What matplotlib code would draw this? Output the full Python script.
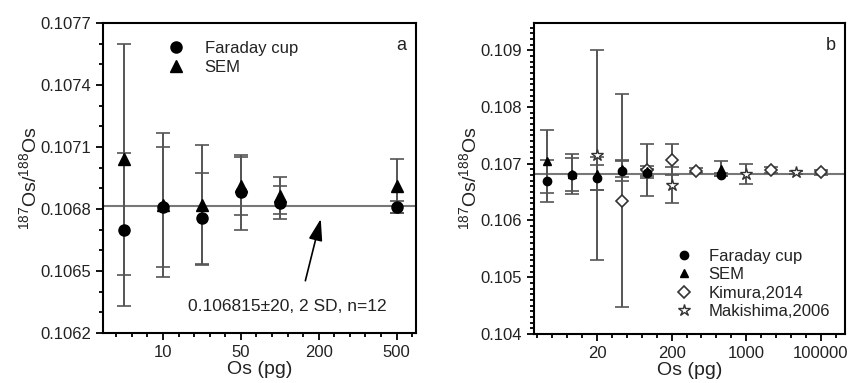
import matplotlib
matplotlib.use('Agg')
import matplotlib.pyplot as plt
import numpy as np
from matplotlib.ticker import FixedLocator, MultipleLocator, FormatStrFormatter

plt.rcParams['font.family'] = ['Liberation Sans', 'DejaVu Sans']
plt.rcParams['mathtext.default'] = 'regular'

# panel a: Faraday cup / SEM, category positions on x
pos_a = [1, 2, 3, 4, 5, 8]
fc_a = [0.10670, 0.10681, 0.106755, 0.10688, 0.10683, 0.10681]
fc_err_a = [0.00037, 0.00029, 0.00022, 0.00018, 0.00008, 0.00003]
sem_a = [0.10704, 0.10682, 0.10682, 0.10691, 0.106865, 0.10691]
sem_err_a = [0.00056, 0.00035, 0.00029, 0.00014, 0.00009, 0.00013]
xticks_a = [2, 4, 6, 8]
xlabels_a = ['10', '50', '200', '500']

# panel b: same data + literature values
pos_b = [1, 2, 3, 4, 5, 8]
kim_pos = [4, 5, 6, 7, 10, 12]
kim = [0.10635, 0.10689, 0.10707, 0.10688, 0.10689, 0.10685]
kim_err = [0.00188, 0.00045, 0.00027, 0.00005, 0.00005, 0.00004]
mak_pos = [3, 6, 9, 11]
mak = [0.10715, 0.10662, 0.106825, 0.10685]
mak_err = [0.00185, 0.00032, 0.000175, 0.00003]
xticks_b = [3, 6, 9, 12]
xlabels_b = ['20', '200', '1000', '100000']

mean_val = 0.106815

txt = '#222222'
ecol = '#555555'

fig = plt.figure(figsize=(8.48, 3.83), dpi=100)
ax1 = fig.add_axes([0.1215, 0.1305, 0.3691, 0.8095])
ax2 = fig.add_axes([0.6297, 0.128, 0.3668, 0.812])


def style(ax):
    for s in ax.spines.values():
        s.set_linewidth(1.5)
        s.set_color('black')
    ax.tick_params(which='both', direction='out', top=False, right=False,
                   labelsize=12, labelcolor=txt, width=1.3)
    ax.tick_params(which='major', length=5)
    ax.tick_params(which='minor', length=3)
    ax.set_xlabel('Os (pg)', fontsize=14, color=txt, labelpad=1)
    ax.set_ylabel('$^{187}$Os/$^{188}$Os', fontsize=14, color=txt, labelpad=0)


# ---- panel a
ax = ax1
ax.axhline(mean_val, color='#777777', lw=1.5, zorder=1)
ax.errorbar(pos_a, fc_a, yerr=fc_err_a, fmt='none', ecolor=ecol, elinewidth=1.4,
            capsize=5, capthick=1.2, zorder=2)
ax.errorbar(pos_a, sem_a, yerr=sem_err_a, fmt='none', ecolor=ecol, elinewidth=1.4,
            capsize=5, capthick=1.2, zorder=2)
ax.plot(pos_a, fc_a, 'o', color='black', ms=8, ls='none', label='Faraday cup', zorder=3)
ax.plot(pos_a, sem_a, '^', color='black', ms=8, ls='none', label='SEM', zorder=3)
ax.set_xlim(0.46, 8.5)
ax.set_ylim(0.1062, 0.1077)
ax.xaxis.set_major_locator(FixedLocator(xticks_a))
ax.set_xticklabels(xlabels_a)
ax.xaxis.set_minor_locator(FixedLocator(np.arange(0.4, 8.5, 0.4)))
ax.yaxis.set_major_locator(MultipleLocator(0.0003))
ax.yaxis.set_minor_locator(MultipleLocator(0.0001))
ax.yaxis.set_major_formatter(FormatStrFormatter('%.4f'))
style(ax)
ax.legend(loc='upper left', bbox_to_anchor=(0.16, 0.99), frameon=False, fontsize=12,
          handlelength=1.0, handletextpad=1.2, labelspacing=0.25, labelcolor=txt)
ax.text(0.97, 0.955, 'a', transform=ax.transAxes, ha='right', va='top', fontsize=13,
        color=txt)
ax.annotate('', xy=(6.07, 0.106765), xytext=(5.64, 0.10644),
            arrowprops=dict(arrowstyle='-|>,head_length=1.1,head_width=0.35',
                            color='black', lw=1.2), fontsize=12)
ax.text(5.2, 0.10633, '0.106815\u00b120, 2 SD, n=12', ha='center', va='center',
        fontsize=12.5, color=txt)

# ---- panel b
ax = ax2
ax.axhline(mean_val, color='#777777', lw=1.5, zorder=1)
for p, v, e in [(pos_b, fc_a, fc_err_a), (pos_b, sem_a, sem_err_a),
                (kim_pos, kim, kim_err), (mak_pos, mak, mak_err)]:
    ax.errorbar(p, v, yerr=e, fmt='none', ecolor=ecol, elinewidth=1.4,
                capsize=5, capthick=1.2, zorder=2)
ax.plot(pos_b, fc_a, 'o', color='black', ms=6, ls='none', label='Faraday cup', zorder=4)
ax.plot(pos_b, sem_a, '^', color='black', ms=6, ls='none', label='SEM', zorder=4)
ax.plot(kim_pos, kim, 'D', mfc='white', mec='#333333', mew=1.2, ms=6.5, ls='none',
        label='Kimura,2014', zorder=3)
ax.plot(mak_pos, mak, '*', mfc='white', mec='#333333', mew=1.0, ms=9, ls='none',
        label='Makishima,2006', zorder=3)
ax.set_xlim(0.46, 12.98)
ax.set_ylim(0.104, 0.10948)
ax.xaxis.set_major_locator(FixedLocator(xticks_b))
ax.set_xticklabels(xlabels_b)
ax.xaxis.set_minor_locator(FixedLocator(np.arange(0.6, 13, 0.6)))
ax.yaxis.set_major_locator(MultipleLocator(0.001))
ax.yaxis.set_minor_locator(MultipleLocator(0.0001))
ax.yaxis.set_major_formatter(FormatStrFormatter('%.3f'))
style(ax)
ax.legend(loc='lower right', bbox_to_anchor=(1.0, 0.0), frameon=False, fontsize=12,
          handlelength=1.0, handletextpad=1.0, labelspacing=0.2, labelcolor=txt)
ax.text(0.97, 0.955, 'b', transform=ax.transAxes, ha='right', va='top', fontsize=13,
        color=txt)

fig.savefig('out.png', dpi=100)
